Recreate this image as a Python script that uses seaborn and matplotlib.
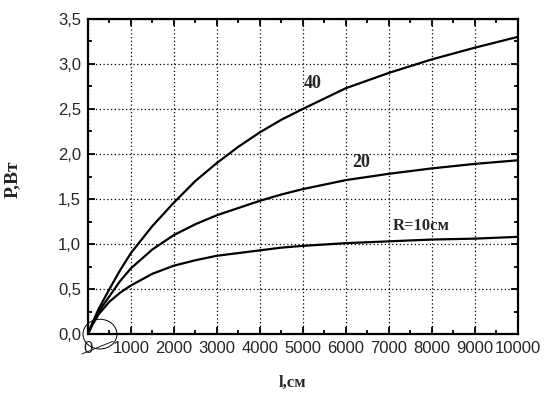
import numpy as np
import pandas as pd
import matplotlib
matplotlib.use('Agg')
import matplotlib.pyplot as plt
from matplotlib.patches import Ellipse
from matplotlib.ticker import MultipleLocator
import seaborn as sns

# l, cm
l_cm = [0, 100, 250, 500, 750, 1000, 1500, 2000, 2500, 3000, 3500, 4000, 4500, 5000,
        6000, 7000, 8000, 9000, 10000]
# P, W for R = 40, 20, 10 cm
p_40 = [0, 0.12, 0.28, 0.50, 0.71, 0.90, 1.20, 1.46, 1.70, 1.90, 2.08, 2.24, 2.38, 2.50,
        2.73, 2.90, 3.05, 3.18, 3.30]
p_20 = [0, 0.11, 0.25, 0.42, 0.59, 0.73, 0.94, 1.10, 1.22, 1.32, 1.40, 1.48, 1.55, 1.61,
        1.71, 1.78, 1.84, 1.89, 1.93]
p_10 = [0, 0.10, 0.22, 0.36, 0.46, 0.54, 0.67, 0.76, 0.82, 0.87, 0.90, 0.93, 0.96, 0.98,
        1.01, 1.03, 1.05, 1.06, 1.08]
curve_names = ['40', '20', '10']

x_ticks = [0, 1000, 2000, 3000, 4000, 5000, 6000, 7000, 8000, 9000, 10000]
y_ticks = [0.0, 0.5, 1.0, 1.5, 2.0, 2.5, 3.0, 3.5]
y_tick_labels = ['0,0', '0,5', '1,0', '1,5', '2,0', '2,5', '3,0', '3,5']

df = pd.concat([
    pd.DataFrame({'l': l_cm, 'P': p, 'R': name})
    for p, name in zip([p_40, p_20, p_10], curve_names)
])

sns.set_style('ticks')
tick_font = ['Liberation Sans', 'DejaVu Sans']
serif_font = ['Liberation Serif', 'DejaVu Serif']

fig = plt.figure(figsize=(5.53, 3.94), dpi=100)
ax = fig.add_axes([0.159, 0.152, 0.777, 0.800])

sns.lineplot(data=df, x='l', y='P', hue='R', palette=['black'] * 3,
             linewidth=1.6, legend=False, ax=ax, sort=False)

ax.set_xlim(0, 10000)
ax.set_ylim(0, 3.5)
ax.set_xticks(x_ticks)
ax.set_xticklabels([str(v) for v in x_ticks], family=tick_font, fontsize=12)
ax.set_yticks(y_ticks)
ax.set_yticklabels(y_tick_labels, family=tick_font, fontsize=12)
ax.xaxis.set_minor_locator(MultipleLocator(500))
ax.yaxis.set_minor_locator(MultipleLocator(0.25))
ax.tick_params(which='both', direction='in', top=True, right=True, color='black', width=1.3)
ax.tick_params(which='major', length=5, pad=5)
ax.tick_params(which='minor', length=3)
ax.grid(True, which='major', color='black', linestyle=(0, (1, 2)), linewidth=0.9)
for s in ax.spines.values():
    s.set_linewidth(1.6)
    s.set_color('black')

ax.set_xlabel('l,см', family=serif_font, fontsize=12, fontweight='bold')
ax.xaxis.set_label_coords(0.475, -0.13)
ax.set_ylabel('P,Вт', family=serif_font, fontsize=14, fontweight='bold')
ax.yaxis.set_label_coords(-0.155, 0.49)

ax.text(5030, 2.73, '40', family=serif_font, fontsize=13, fontweight='bold')
ax.text(6140, 1.86, '20', family=serif_font, fontsize=13, fontweight='bold')
ax.text(7090, 1.16, 'R=10см', family=serif_font, fontsize=12, fontweight='bold')

# hand-drawn circle near the origin
ax.add_patch(Ellipse((280, 0.0), 790, 0.33, fill=False, color='black',
                     linewidth=0.7, clip_on=False))
ax.plot([-140, 580], [-0.22, -0.08], color='black', linewidth=0.6, clip_on=False)

fig.savefig('out.png', dpi=100)
